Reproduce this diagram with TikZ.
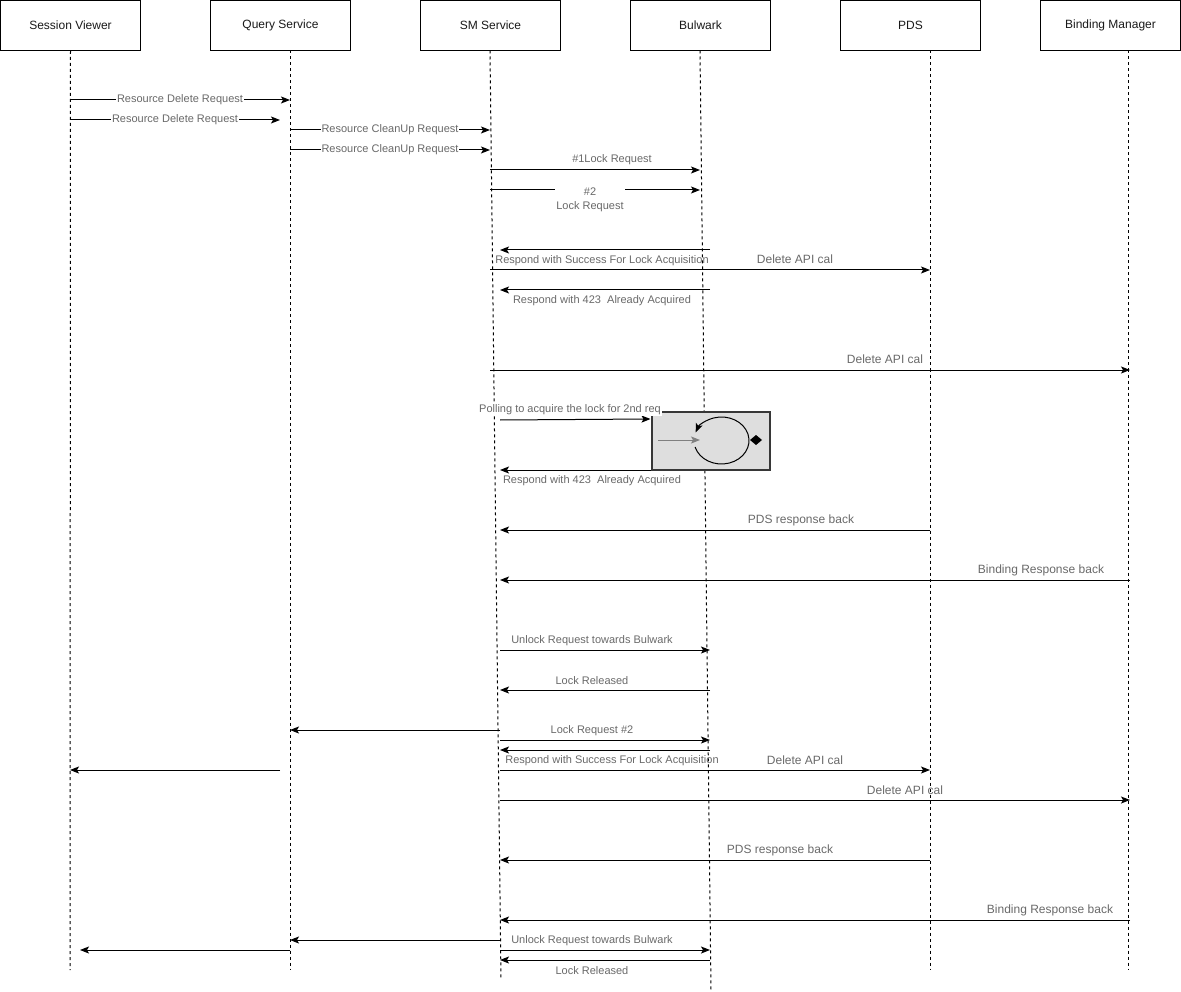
\documentclass[tikz,border=0pt]{standalone}
\usepackage{fontspec}
\setmainfont{Liberation Sans}
\usetikzlibrary{arrows.meta}
\definecolor{lbl}{RGB}{105,105,105}
\definecolor{hdr}{RGB}{25,25,25}
\definecolor{boxfill}{RGB}{222,222,222}
\definecolor{boxline}{RGB}{55,55,55}
\begin{document}
\begin{tikzpicture}[x=1pt,y=-1pt,
  actor/.style={draw, line width=1pt, minimum width=140pt, minimum height=50pt, inner sep=0pt, font=\fontsize{12}{14}\selectfont, text=hdr},
  life/.style={line width=1pt, dash pattern=on 3pt off 3pt},
  msg/.style={line width=1pt, -{Stealth[length=9pt,width=7pt,inset=2pt]}},
  lab/.style={font=\fontsize{11}{13}\selectfont, text=lbl, inner sep=1pt},
  labb/.style={font=\fontsize{12}{14}\selectfont, text=lbl, inner sep=1pt},
  onl/.style={lab, fill=white},
]
\useasboundingbox (0,0) rectangle (1181,992);

% actors
\node[actor] (sv)  at (70.5,25.5)   {Session Viewer};
\node[actor] (qs)  at (280.5,25.5)  {Query Service};
\node[actor] (sm)  at (490.5,25.5)  {SM Service};
\node[actor] (bw)  at (700.5,25.5)  {Bulwark};
\node[actor] (pds) at (910.5,25.5)  {PDS};
\node[actor] (bm)  at (1110.5,25.5) {Binding Manager};

% lifeline x anchors
\coordinate (Xsv)  at (70,0);
\coordinate (Xqs)  at (290,0);
\coordinate (Xqs2) at (280,0);
\coordinate (Xsv2) at (80,0);
\coordinate (Xsm)  at (490,0);
\coordinate (Xsm2) at (500,0);
\coordinate (Xbw)  at (700,0);
\coordinate (Xbw2) at (710,0);
\coordinate (Xpds) at (930,0);
\coordinate (Xbm)  at (1130,0);

% lifelines
\coordinate (svB)  at (70,970);
\coordinate (qsB)  at (290,970);
\coordinate (smT)  at (490,50.5);
\coordinate (smB)  at (501,980);
\coordinate (bwT)  at (700,50.5);
\coordinate (bwB)  at (711,990);
\coordinate (pdsB) at (930,970);
\coordinate (bmB)  at (1128,970);
\draw[life] (sv.south) -- (svB);
\draw[life] (Xqs |- 0,50.5) -- (qsB);
\draw[life] (smT) -- (smB);
\draw[life] (bwT) -- (bwB);
\draw[life] (Xpds |- 0,50.5) -- (pdsB);
\draw[life] (1128,50.5) -- (bmB);

% messages
\draw[msg] (Xsv|-0,100) -- node[onl]{Resource Delete Request} (Xqs|-0,100);
\draw[msg] (Xsv|-0,120) -- node[onl]{Resource Delete Request} (Xqs2|-0,120);
\draw[msg] (Xqs|-0,130) -- node[onl]{Resource CleanUp Request} (Xsm|-0,130);
\draw[msg] (Xqs|-0,150) -- node[onl]{Resource CleanUp Request} (Xsm|-0,150);

\draw[msg] (Xsm|-0,170) -- (Xbw|-0,170);
\node[lab] (l1) at (612,160) {\#1Lock Request};
\draw[msg] (Xsm|-0,190) -- (Xbw|-0,190);
\node[lab, fill=white, align=center, inner sep=1pt, font=\fontsize{11}{14}\selectfont] (l2) at (590,200) {\#2\\Lock Request};

\draw[msg] (Xbw2|-0,250) -- (Xsm2|-0,250);
\node[lab] (l3) at (602,261) {Respond with Success For Lock Acquisition};
\draw[msg] (Xsm|-0,270) -- (Xpds|-0,270);
\node[labb] (l4) at (795,259) {Delete API cal};
\draw[msg] (Xbw2|-0,290) -- (Xsm2|-0,290);
\node[lab] (l5) at (602,301) {Respond with 423\ \ Already Acquired};

\draw[msg] (Xsm|-0,370) -- (Xbm|-0,370);
\node[labb] (l6) at (885,359) {Delete API cal};

% polling loop box
\node[draw=boxline, line width=2pt, fill=boxfill, minimum width=118pt, minimum height=58pt, inner sep=0pt] (loopbox) at (710.5,440.5) {};
\draw[line width=1pt, draw=gray, -{Stealth[length=9pt,width=7pt,inset=2pt]}, color=gray] (658,440) -- (700,440);
\draw[line width=1pt, -{Stealth[length=9pt,width=7pt,inset=2pt]}] (721.5,440.5) ++(164:27.5 and 23.5) arc[start angle=164, end angle=-160, x radius=27.5, y radius=23.5];
\fill (750,440) -- (756,435) -- (762,440) -- (756,445) -- cycle;
\draw[msg] (Xsm2|-0,420) -- (loopbox.west|-0,419);
\node[lab, fill=white] (l7) at (570,410) {Polling to acquire the lock for 2nd req};
\draw[msg] (loopbox.west|-0,470) -- (Xsm2|-0,470);
\node[lab] (l8) at (592,481) {Respond with 423\ \ Already Acquired};

\draw[msg] (Xpds|-0,530) -- (Xsm2|-0,530);
\node[labb] (l9) at (801,520) {PDS response back};
\draw[msg] (Xbm|-0,580) -- (Xsm2|-0,580);
\node[labb] (l10) at (1041,570) {Binding Response back};

\draw[msg] (Xsm2|-0,650) -- (Xbw2|-0,650);
\node[lab] (l11) at (592,641) {Unlock Request towards Bulwark};
\draw[msg] (Xbw2|-0,690) -- (Xsm2|-0,690);
\node[lab] (l12) at (592,681) {Lock Released};

\draw[msg] (Xsm2|-0,730) -- (Xqs|-0,730);
\draw[msg] (Xsm2|-0,740) -- (Xbw2|-0,740);
\node[lab] (l13) at (592,731) {Lock Request \#2};
\draw[msg] (Xbw2|-0,750) -- (Xsm2|-0,750);
\node[lab] (l14) at (612,761) {Respond with Success For Lock Acquisition};
\draw[msg] (Xqs2|-0,770) -- (Xsv|-0,770);
\draw[msg] (Xsm2|-0,770) -- (Xpds|-0,770);
\node[labb] (l15) at (805,760) {Delete API cal};
\draw[msg] (Xsm2|-0,800) -- (Xbm|-0,800);
\node[labb] (l16) at (905,790) {Delete API cal};

\draw[msg] (Xpds|-0,860) -- (Xsm2|-0,860);
\node[labb] (l17) at (780,850) {PDS response back};
\draw[msg] (Xbm|-0,920) -- (Xsm2|-0,920);
\node[labb] (l18) at (1050,910) {Binding Response back};

\draw[msg] (Xsm2|-0,940) -- (Xqs|-0,940);
\draw[msg] (Xsm2|-0,950) -- (Xbw2|-0,950);
\node[lab] (l19) at (592,941) {Unlock Request towards Bulwark};
\draw[msg] (Xqs|-0,950) -- (Xsv2|-0,950);
\draw[msg] (Xbw2|-0,960) -- (Xsm2|-0,960);
\node[lab] (l20) at (592,971) {Lock Released};
\end{tikzpicture}
\end{document}
